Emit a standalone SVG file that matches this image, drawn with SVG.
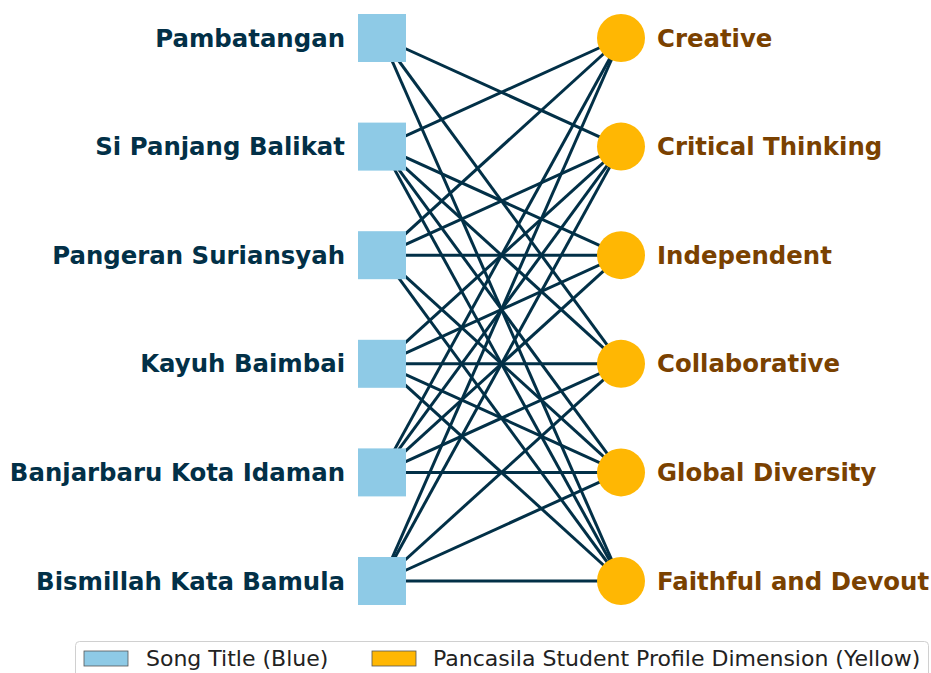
<svg xmlns="http://www.w3.org/2000/svg" width="931" height="673" viewBox="0 0 931 673">
<style>
.e{stroke:#023047;stroke-width:3;fill:none}
.sq{fill:#8ecae6}
.ci{fill:#ffb703}
.lt{font-family:"DejaVu Sans",sans-serif;font-weight:bold;font-size:24.4px;fill:#023047;text-anchor:end}
.rt{font-family:"DejaVu Sans",sans-serif;font-weight:bold;font-size:24.4px;fill:#7a4100}
.lg{font-family:"DejaVu Sans",sans-serif;font-size:22px;fill:#222}
</style>
<rect width="931" height="673" fill="#fff"/>
<g id="edges">
<line class="e" x1="382" y1="38" x2="621" y2="146.6"/>
<line class="e" x1="382" y1="38" x2="621" y2="363.8"/>
<line class="e" x1="382" y1="38" x2="621" y2="581"/>
<line class="e" x1="382" y1="146.6" x2="621" y2="38"/>
<line class="e" x1="382" y1="146.6" x2="621" y2="255.2"/>
<line class="e" x1="382" y1="146.6" x2="621" y2="363.8"/>
<line class="e" x1="382" y1="146.6" x2="621" y2="472.4"/>
<line class="e" x1="382" y1="146.6" x2="621" y2="581"/>
<line class="e" x1="382" y1="255.2" x2="621" y2="38"/>
<line class="e" x1="382" y1="255.2" x2="621" y2="146.6"/>
<line class="e" x1="382" y1="255.2" x2="621" y2="255.2"/>
<line class="e" x1="382" y1="255.2" x2="621" y2="472.4"/>
<line class="e" x1="382" y1="255.2" x2="621" y2="581"/>
<line class="e" x1="382" y1="363.8" x2="621" y2="146.6"/>
<line class="e" x1="382" y1="363.8" x2="621" y2="255.2"/>
<line class="e" x1="382" y1="363.8" x2="621" y2="363.8"/>
<line class="e" x1="382" y1="363.8" x2="621" y2="472.4"/>
<line class="e" x1="382" y1="363.8" x2="621" y2="581"/>
<line class="e" x1="382" y1="472.4" x2="621" y2="38"/>
<line class="e" x1="382" y1="472.4" x2="621" y2="146.6"/>
<line class="e" x1="382" y1="472.4" x2="621" y2="255.2"/>
<line class="e" x1="382" y1="472.4" x2="621" y2="363.8"/>
<line class="e" x1="382" y1="472.4" x2="621" y2="472.4"/>
<line class="e" x1="382" y1="581" x2="621" y2="38"/>
<line class="e" x1="382" y1="581" x2="621" y2="146.6"/>
<line class="e" x1="382" y1="581" x2="621" y2="363.8"/>
<line class="e" x1="382" y1="581" x2="621" y2="472.4"/>
<line class="e" x1="382" y1="581" x2="621" y2="581"/>
</g>
<g id="song-pambatangan"><rect class="sq" x="358" y="14" width="48" height="48"/><text class="lt" x="345" y="46.5">Pambatangan</text></g>
<g id="song-si-panjang-balikat"><rect class="sq" x="358" y="122.6" width="48" height="48"/><text class="lt" x="345" y="155.1">Si Panjang Balikat</text></g>
<g id="song-pangeran-suriansyah"><rect class="sq" x="358" y="231.2" width="48" height="48"/><text class="lt" x="345" y="263.7">Pangeran Suriansyah</text></g>
<g id="song-kayuh-baimbai"><rect class="sq" x="358" y="339.8" width="48" height="48"/><text class="lt" x="345" y="372.3">Kayuh Baimbai</text></g>
<g id="song-banjarbaru"><rect class="sq" x="358" y="448.4" width="48" height="48"/><text class="lt" x="345" y="480.9">Banjarbaru Kota Idaman</text></g>
<g id="song-bismillah"><rect class="sq" x="358" y="557" width="48" height="48"/><text class="lt" x="345" y="589.5">Bismillah Kata Bamula</text></g>
<g id="dim-creative"><circle class="ci" cx="621" cy="38" r="24"/><text class="rt" x="657" y="46.5">Creative</text></g>
<g id="dim-critical"><circle class="ci" cx="621" cy="146.6" r="24"/><text class="rt" x="657" y="155.1">Critical Thinking</text></g>
<g id="dim-independent"><circle class="ci" cx="621" cy="255.2" r="24"/><text class="rt" x="657" y="263.7">Independent</text></g>
<g id="dim-collaborative"><circle class="ci" cx="621" cy="363.8" r="24"/><text class="rt" x="657" y="372.3">Collaborative</text></g>
<g id="dim-global"><circle class="ci" cx="621" cy="472.4" r="24"/><text class="rt" x="657" y="480.9">Global Diversity</text></g>
<g id="dim-faithful"><circle class="ci" cx="621" cy="581" r="24"/><text class="rt" x="657" y="589.5">Faithful and Devout</text></g>
<g id="legend">
<rect x="75.5" y="641.5" width="853" height="50" rx="4" fill="#fff" stroke="#d0d0d0"/>
<rect x="84" y="651" width="44" height="15" fill="#8ecae6" stroke="#555" stroke-width="0.8"/>
<text class="lg" x="146" y="666">Song Title (Blue)</text>
<rect x="372" y="651" width="44" height="15" fill="#ffb703" stroke="#555" stroke-width="0.8"/>
<text class="lg" x="433" y="666">Pancasila Student Profile Dimension (Yellow)</text>
</g>
</svg>
